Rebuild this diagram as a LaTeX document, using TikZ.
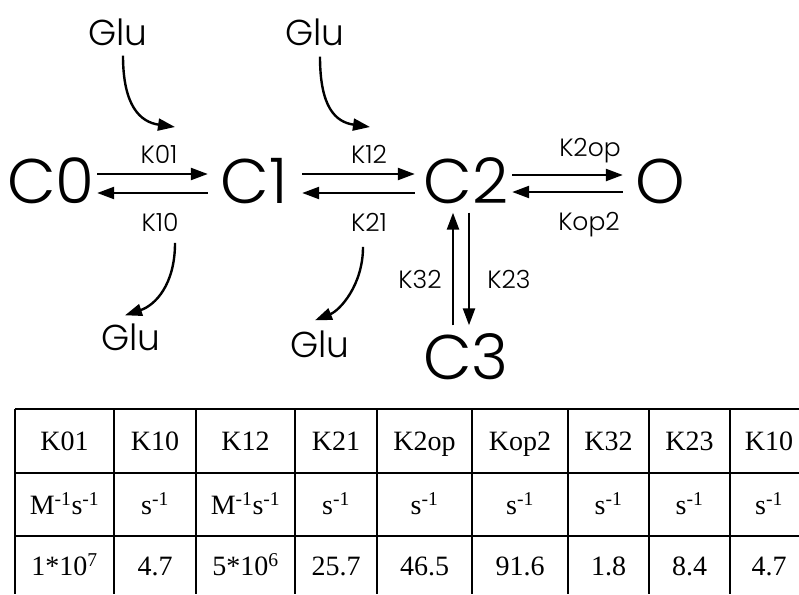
\documentclass[tikz,border=0pt]{standalone}
\usepackage{fontspec}
\setmainfont{Liberation Serif}
\newfontfamily\gfont{Poppins Light}
\usetikzlibrary{arrows.meta}
\begin{document}
\begin{tikzpicture}[x=1pt,y=-1pt,
  state/.style={font=\gfont\fontsize{63}{63}\selectfont, inner sep=0pt,
    text height=54pt, text depth=9pt, minimum width=92pt},
  ostate/.style={state, minimum width=74pt},
  klbl/.style={font=\gfont\fontsize{25}{25}\selectfont, inner sep=0pt,
    text height=17.5pt, text depth=0pt},
  glu/.style={font=\gfont\fontsize{36}{36}\selectfont, inner sep=0pt,
    text height=25pt, text depth=0pt},
  arr/.style={line width=2.4pt, -{Triangle[length=17pt,width=12pt]}},
  tline/.style={line width=1.8pt},
  cell/.style={font=\fontsize{28}{28}\selectfont, inner sep=0pt,
    text height=18.5pt, text depth=0pt}
]
\useasboundingbox (0,0) rectangle (799,594);
% states
\node[state] (c0) at (51,181) {C0};
\node[state] (c1) at (254,181) {C1};
\node[state] (c2) at (466,181) {C2};
\node[ostate] (o) at (660,181) {O};
\node[state] (c3) at (466,357) {C3};
% rate labels
\node[klbl] (k01) at (159,155) {K01};
\node[klbl] (k10) at (160,223) {K10};
\node[klbl] (k12) at (369,155) {K12};
\node[klbl] (k21) at (369,223) {K21};
\node[klbl] (k2op) at (590,148) {K2op};
\node[klbl] (kop2) at (589,222) {Kop2};
\node[klbl] (k32) at (420,280) {K32};
\node[klbl] (k23) at (509,280) {K23};
% glu
\node[glu] (glu1) at (118,33) {Glu};
\node[glu] (glu2) at (315,33) {Glu};
\node[glu] (glu3) at (131,338) {Glu};
\node[glu] (glu4) at (320,345) {Glu};
\coordinate (t01) at (175,127);
\coordinate (t12) at (370,127);
% horizontal arrows
\draw[arr] ([yshift=7pt]c0.east) -- ([yshift=7pt]c1.west);
\draw[arr] ([yshift=-12pt]c1.west) -- ([yshift=-12pt]c0.east);
\draw[arr] ([xshift=2pt,yshift=7pt]c1.east) -- ([xshift=-5pt,yshift=7pt]c2.west);
\draw[arr] ([xshift=-5pt,yshift=-12pt]c2.west) -- ([xshift=2pt,yshift=-12pt]c1.east);
\draw[arr] ([yshift=6pt]c2.east) -- ([yshift=6pt]o.west);
\draw[arr] ([yshift=-11pt]o.west) -- ([yshift=-11pt]c2.east);
% vertical arrows
\draw[arr] ([xshift=-13pt]c3.north) -- ([xshift=-13pt]c2.south);
\draw[arr] ([xshift=3pt]c2.south) -- ([xshift=3pt]c3.north);
% glu curves
\draw[arr] ([xshift=5pt,yshift=-10pt]glu1.south) .. controls +(0,50) and +(-35,-5) .. (t01);
\draw[arr] ([xshift=5pt,yshift=-11pt]glu2.south) .. controls +(0,50) and +(-35,-5) .. (t12);
\draw[arr] ([xshift=15pt,yshift=-11pt]k10.south) .. controls +(0,42) and +(30,-10) .. ([xshift=-6pt,yshift=10pt]glu3.north);
\draw[arr] ([xshift=-6pt,yshift=-15pt]k21.south) .. controls +(0,38) and +(25,-10) .. ([xshift=-5pt,yshift=12pt]glu4.north);
% table
\foreach \yy in {409,473,536} \draw[tline] (15,\yy) -- (799,\yy);
\foreach \xx in {15,114,196,295,377,472,568,649,730} \draw[tline] (\xx,409) -- (\xx,594);
\node[cell] (h1) at (64.5,441) {K01};
\node[cell] (h2) at (155,441) {K10};
\node[cell] (h3) at (245.5,441) {K12};
\node[cell] (h4) at (336,441) {K21};
\node[cell] (h5) at (424.5,441) {K2op};
\node[cell] (h6) at (520,441) {Kop2};
\node[cell] (h7) at (608.5,441) {K32};
\node[cell] (h8) at (689.5,441) {K23};
\node[cell] (h9) at (769,441) {K10};
\node[cell] (u1) at (64.5,505) {M\textsuperscript{-1}s\textsuperscript{-1}};
\node[cell] (u2) at (155,505) {s\textsuperscript{-1}};
\node[cell] (u3) at (245.5,505) {M\textsuperscript{-1}s\textsuperscript{-1}};
\node[cell] (u4) at (336,505) {s\textsuperscript{-1}};
\node[cell] (u5) at (424.5,505) {s\textsuperscript{-1}};
\node[cell] (u6) at (520,505) {s\textsuperscript{-1}};
\node[cell] (u7) at (608.5,505) {s\textsuperscript{-1}};
\node[cell] (u8) at (689.5,505) {s\textsuperscript{-1}};
\node[cell] (u9) at (769,505) {s\textsuperscript{-1}};
\node[cell] (v1) at (64.5,566) {1*10\textsuperscript{7}};
\node[cell] (v2) at (155,566) {4.7};
\node[cell] (v3) at (245.5,566) {5*10\textsuperscript{6}};
\node[cell] (v4) at (336,566) {25.7};
\node[cell] (v5) at (424.5,566) {46.5};
\node[cell] (v6) at (520,566) {91.6};
\node[cell] (v7) at (608.5,566) {1.8};
\node[cell] (v8) at (689.5,566) {8.4};
\node[cell] (v9) at (769,566) {4.7};
\end{tikzpicture}
\end{document}
